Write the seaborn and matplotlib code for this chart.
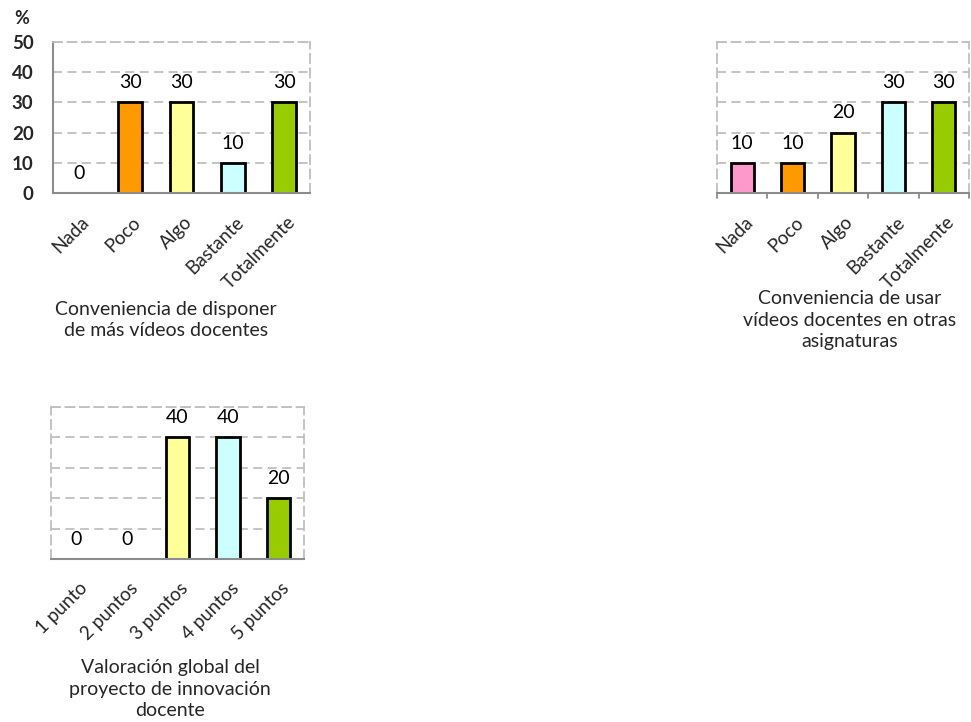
import matplotlib
matplotlib.use("Agg")
import matplotlib.pyplot as plt
import matplotlib.transforms as mtransforms
import seaborn as sns
import pandas as pd

sns.set_theme(style="white")
plt.rcParams["font.family"] = ["Lato", "DejaVu Sans"]

# Survey answers (% of respondents)
niveles = ["Nada", "Poco", "Algo", "Bastante", "Totalmente"]
mas_videos = [0, 30, 30, 10, 30]
otras_asignaturas = [10, 10, 20, 30, 30]

puntos = ["1 punto", "2 puntos", "3 puntos", "4 puntos", "5 puntos"]
valoracion = [0, 0, 40, 40, 20]

colores = ["#FF99CC", "#FF9900", "#FFFF99", "#CCFFFF", "#99CC00"]

titulo_1 = "Conveniencia de disponer\nde más vídeos docentes"
titulo_2 = "Conveniencia de usar\nvídeos docentes en otras\nasignaturas"
titulo_3 = "Valoración global del\nproyecto de innovación\ndocente"

W, H = 971, 722
fig = plt.figure(figsize=(W / 100, H / 100), dpi=100)

GRID = "#BFBFBF"
AXIS = "#8C8C8C"
DASH = (0, (5, 3))


def ax_px(left, top, right, bottom):
    return fig.add_axes([left / W, 1 - bottom / H, (right - left) / W, (bottom - top) / H])


def panel(ax, cats, vals, show_y=False, xticks=False, left_dashed=True):
    df = pd.DataFrame({"cat": cats, "val": vals})
    sns.barplot(data=df, x="cat", y="val", hue="cat", palette=colores,
                saturation=1, legend=False, width=0.46, edgecolor="black",
                linewidth=2, ax=ax, zorder=3)
    for patch, v in zip(ax.patches, vals):
        if v == 0:
            patch.set_linewidth(0)
    for cont in ax.containers:
        ax.bar_label(cont, padding=8, fontsize=14, color="black")
    ax.set_ylim(0, 50)
    ax.set_xlim(-0.5, len(cats) - 0.5)
    ax.set_yticks([0, 10, 20, 30, 40, 50])
    ax.yaxis.grid(True, color=GRID, linestyle=DASH, linewidth=1.3, zorder=0)
    ax.set_xlabel("")
    ax.set_ylabel("")
    for side in ["top", "right"]:
        ax.spines[side].set_visible(True)
        ax.spines[side].set_color(GRID)
        ax.spines[side].set_linestyle(DASH)
        ax.spines[side].set_linewidth(1.3)
    ax.spines["bottom"].set_color(AXIS)
    ax.spines["bottom"].set_linewidth(1.5)
    ax.spines["bottom"].set_zorder(4)
    if left_dashed:
        ax.spines["left"].set_color(GRID)
        ax.spines["left"].set_linestyle(DASH)
        ax.spines["left"].set_linewidth(1.3)
    else:
        ax.spines["left"].set_color(AXIS)
        ax.spines["left"].set_linewidth(1.5)
    if show_y:
        ax.tick_params(axis="y", labelsize=13.5, length=0, pad=14)
        for t in ax.get_yticklabels():
            t.set_fontweight("bold")
    else:
        ax.tick_params(axis="y", labelleft=False, length=0)
    ax.set_xticks(range(len(cats)))
    ax.set_xticklabels(cats, rotation=45, ha="right", va="center",
                       rotation_mode="anchor", fontsize=13.5)
    ax.tick_params(axis="x", length=0, pad=19)
    shift = mtransforms.ScaledTranslation(8 / 100, 0, fig.dpi_scale_trans)
    for lbl in ax.get_xticklabels():
        lbl.set_transform(lbl.get_transform() + shift)
    if xticks:
        for xb in [i - 0.5 for i in range(len(cats) + 1)]:
            ax.plot([xb, xb], [0, -1.6], color=AXIS, lw=1.3,
                    clip_on=False, zorder=4)
    return ax


def titulo(x, y, texto):
    fig.text(x / W, 1 - y / H, texto, fontsize=14, ha="center", va="center",
             linespacing=1.3)


ax1 = ax_px(53, 42, 310, 193)
panel(ax1, niveles, mas_videos, show_y=True, left_dashed=False)
fig.text(22 / W, 1 - 18 / H, "%", fontsize=13, fontweight="bold",
         ha="center", va="center")
titulo(166, 320, titulo_1)

ax2 = ax_px(717, 42, 969, 193)
panel(ax2, niveles, otras_asignaturas, xticks=True)
titulo(850, 320, titulo_2)

ax3 = ax_px(51, 407, 304, 559)
panel(ax3, puntos, valoracion)
titulo(170, 689, titulo_3)

fig.savefig("out.png", dpi=100)
